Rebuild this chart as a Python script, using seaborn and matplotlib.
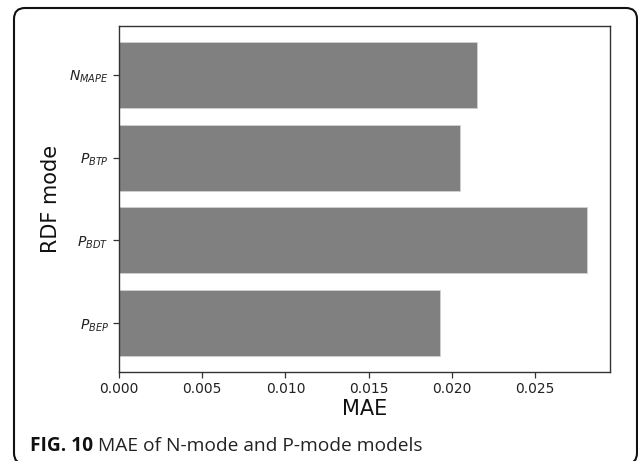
import matplotlib
matplotlib.use("Agg")
import matplotlib.pyplot as plt
from matplotlib.patches import FancyBboxPatch
import seaborn as sns
import pandas as pd

modes = [r"$N_{MAPE}$", r"$P_{BTP}$", r"$P_{BDT}$", r"$P_{BEP}$"]
mae = [0.0215, 0.0205, 0.0281, 0.0193]
xticks = [0.000, 0.005, 0.010, 0.015, 0.020, 0.025]

df = pd.DataFrame({"mode": modes, "MAE": mae})

sns.set_style("ticks")
plt.rcParams["font.family"] = ["DejaVu Sans"]

W, H = 638, 461
fig = plt.figure(figsize=(W / 100, H / 100), dpi=100)
ax = fig.add_axes([119 / W, 1 - 372 / H, (610 - 119) / W, (372 - 26) / H])

sns.barplot(data=df, x="MAE", y="mode", orient="h", color="#808080",
            saturation=1, width=0.8, edgecolor="#d0d0d0", linewidth=0.6, ax=ax)

ax.set_ylim(3.59, -0.59)
ax.set_xlim(0, max(mae) * 1.05)
ax.set_xticks(xticks)
ax.set_xticklabels([f"{t:.3f}" for t in xticks], fontsize=10, color="#222222")
ax.tick_params(axis="y", labelsize=10, colors="#222222")
ax.tick_params(axis="both", length=4, width=0.9, color="#333333")
for s in ax.spines.values():
    s.set_visible(True)
    s.set_color("#333333")
    s.set_linewidth(1.0)
ax.set_xlabel("MAE", fontsize=15, labelpad=2, color="#111111")
ax.set_ylabel("RDF mode", fontsize=15, labelpad=6, color="#111111")

# outer rounded frame (in inches; 1 in = 100 px)
frame = FancyBboxPatch((14 / 100, -3 / 100), (637 - 14) / 100, (H - 8 + 3) / 100,
                       boxstyle="round,pad=0,rounding_size=0.11",
                       transform=fig.dpi_scale_trans, fill=False,
                       edgecolor="#111111", linewidth=1.5, clip_on=False)
fig.add_artist(frame)

# caption
cap_y = 1 - 451 / H
t1 = fig.text(30 / W, cap_y, "FIG. 10", fontsize=13.8, fontweight="bold",
              family=["Open Sans", "DejaVu Sans"], va="baseline", color="#111111")
fig.canvas.draw()
bb = t1.get_window_extent(renderer=fig.canvas.get_renderer())
fig.text((bb.x1 + 5) / W, cap_y, "MAE of N-mode and P-mode models", fontsize=13.8,
         family=["Open Sans", "DejaVu Sans"], va="baseline", color="#222222")

fig.savefig("out.png", dpi=100)
